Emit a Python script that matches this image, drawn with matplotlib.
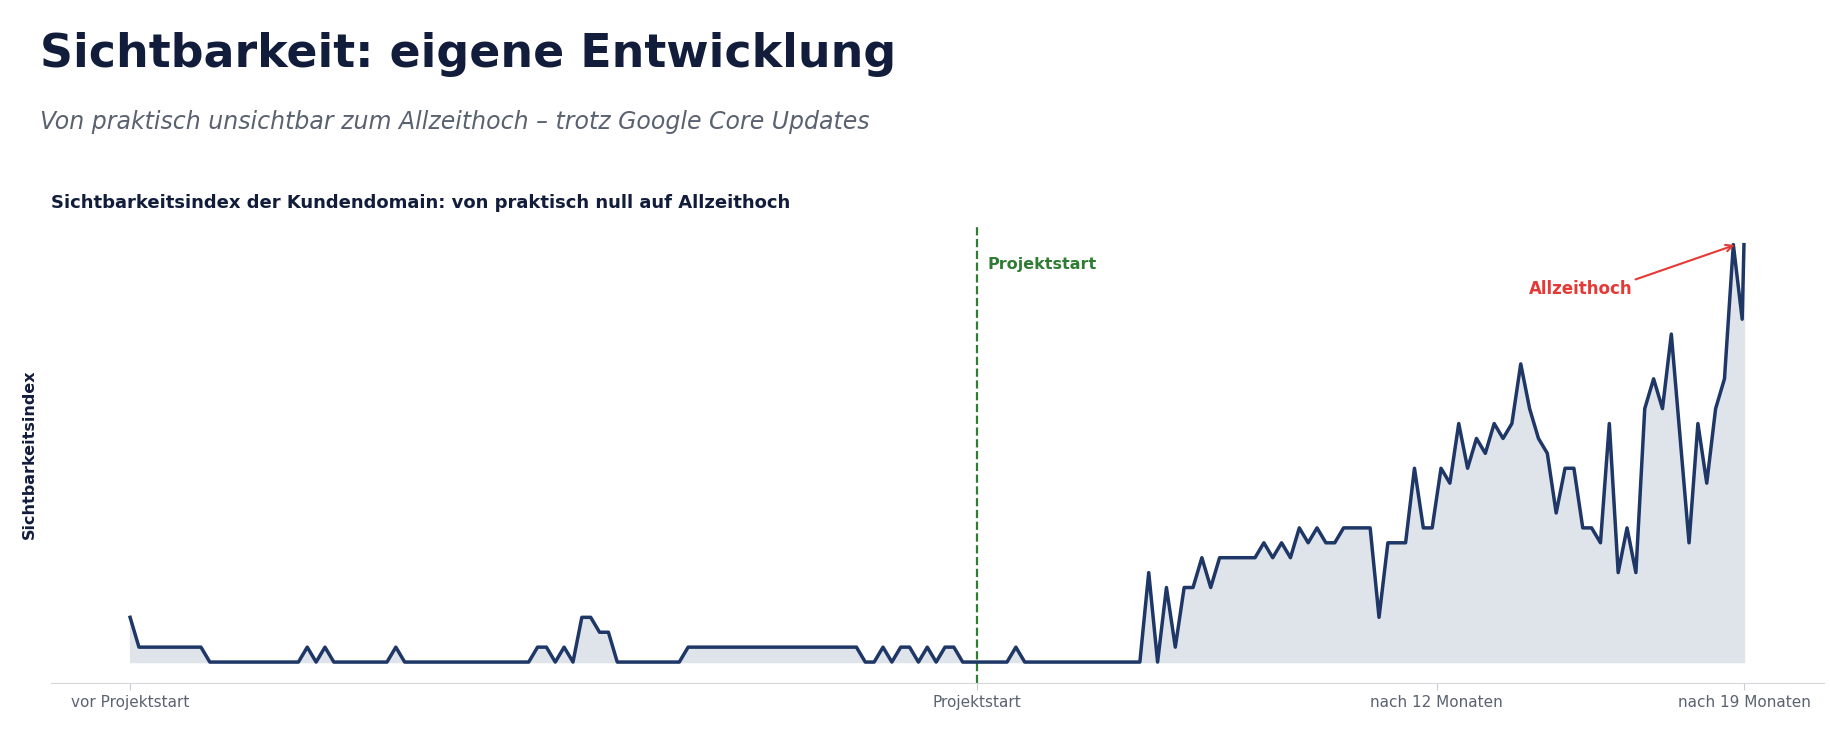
import numpy as np
import matplotlib
matplotlib.use("Agg")
import matplotlib.pyplot as plt

# weekly values (Sichtbarkeitsindex, relative units)
values = [3, 1, 1, 1, 1, 1, 1, 1, 1,
          0, 0, 0, 0, 0, 0, 0, 0, 0, 0, 0,
          1, 0, 1, 0, 0, 0, 0, 0, 0, 0,
          1, 0, 0, 0, 0, 0, 0, 0, 0, 0, 0, 0, 0, 0, 0, 0,
          1, 1, 0, 1, 0, 3, 3, 2, 2, 0, 0, 0, 0, 0, 0, 0, 0,
          1, 1, 1, 1, 1, 1, 1, 1, 1, 1, 1, 1, 1, 1, 1, 1, 1, 1, 1, 1,
          0, 0, 1, 0, 1, 1, 0, 1, 0, 1, 1, 0, 0, 0, 0, 0, 0,
          1, 0, 0, 0, 0, 0, 0, 0, 0, 0, 0, 0, 0, 0, 0,
          6, 0, 5, 1, 5, 5, 7, 5, 7, 7, 7, 7, 7, 8, 7, 8, 7, 9, 8, 9, 8, 8,
          9, 9, 9, 9, 3, 8, 8, 8, 13, 9, 9, 13, 12, 16, 13, 15, 14, 16, 15, 16,
          20, 17, 15, 14, 10, 13, 13, 9, 9, 8, 16, 6, 9, 6, 17, 19, 17, 22, 15, 8,
          16, 12, 17, 19, 28, 23, 28]
weeks = list(range(len(values) - 1)) + [len(values) - 1.8]
project_start = 95.6
tick_pos = [0, project_start, 147.5, weeks[-1]]
tick_labels = ["vor Projektstart", "Projektstart", "nach 12 Monaten", "nach 19 Monaten"]

fig = plt.figure(figsize=(18.31, 7.29), dpi=100)
fig.text(0.022, 0.925, "Sichtbarkeit: eigene Entwicklung", fontsize=33, fontweight="bold",
         color="#121d3b", family=["Liberation Sans Narrow", "DejaVu Sans"], va="center")
fig.text(0.022, 0.833, "Von praktisch unsichtbar zum Allzeithoch – trotz Google Core Updates",
         fontsize=17, style="italic", color="#5a6270",
         family=["Liberation Sans Narrow", "DejaVu Sans"], va="center")
fig.text(0.028, 0.721, "Sichtbarkeitsindex der Kundendomain: von praktisch null auf Allzeithoch",
         fontsize=13, fontweight="bold", color="#121d3b", va="center")

ax = fig.add_axes([0.028, 0.063, 0.968, 0.628])
ax.fill_between(weeks, values, 0, color="#dfe3ea", zorder=1)
ax.plot(weeks, values, color="#1e3766", lw=2.5, zorder=3)
ax.axvline(project_start, color="#2e7d32", ls="--", lw=1.6, zorder=2)
ax.text(project_start + 1.2, 26.7, "Projektstart", color="#2e7d32", fontweight="bold",
        fontsize=11.5, va="center")
ax.annotate("Allzeithoch", xy=(weeks[-3] + 0.3, 28), xytext=(163.8, 25),
            color="#e53935", fontweight="bold", fontsize=12, ha="center", va="center",
            arrowprops=dict(arrowstyle="->", color="#e53935", lw=1.5,
                            shrinkA=0, shrinkB=1, relpos=(1.0, 1.0)))

ax.set_xlim(-8.9, 191.2)
ax.set_ylim(-1.41, 29.3)
ax.set_xticks(tick_pos)
ax.set_xticklabels(tick_labels, color="#5a6270", fontsize=11)
ax.tick_params(axis="x", length=5, color="#cccccc")
ax.set_yticks([])
ax.set_ylabel("Sichtbarkeitsindex", fontweight="bold", fontsize=11.5, color="#121d3b", labelpad=0)
ax.yaxis.set_label_coords(-0.008, 0.5)
for s in ["top", "right", "left"]:
    ax.spines[s].set_visible(False)
ax.spines["bottom"].set_color("#d5d8dd")

fig.savefig("out.png", dpi=100)
